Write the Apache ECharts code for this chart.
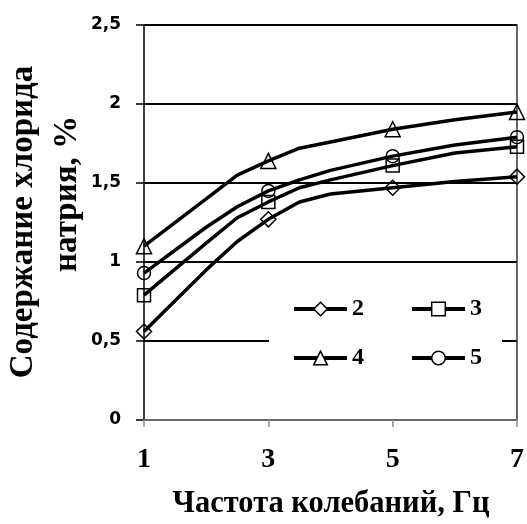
<!DOCTYPE html>
<html><head><meta charset="utf-8">
<script src="https://cdn.jsdelivr.net/npm/echarts@6/dist/echarts.min.js"></script>
<style>html,body{margin:0;padding:0;background:#fff}#c{width:527px;height:524px}</style>
</head><body><div id="c"></div>
<script>
const xLine = [1, 2, 2.5, 3, 3.5, 4, 5, 6, 7];
const markerX = [1, 3, 5, 7];
const s2 = [0.56, 0.95, 1.13, 1.27, 1.38, 1.43, 1.47, 1.51, 1.54];
const s3 = [0.79, 1.12, 1.28, 1.38, 1.47, 1.52, 1.61, 1.69, 1.73];
const s4 = [1.10, 1.40, 1.55, 1.64, 1.72, 1.76, 1.84, 1.90, 1.95];
const s5 = [0.93, 1.22, 1.35, 1.45, 1.52, 1.58, 1.67, 1.74, 1.79];
const names = ['2', '3', '4', '5'];
const symbols = ['diamond', 'rect', 'triangle', 'circle'];
const sizes = [15, 13, 15, 13];
const xTicks = [1, 3, 5, 7];
const yTitle1 = 'Содержание хлорида';
const yTitle2 = 'натрия, %';
const xTitle = 'Частота колебаний, Гц';

const serif = '"Liberation Serif", "Times New Roman", serif';
const sans = '"DejaVu Sans", Arial, sans-serif';

function mk(vals, i) {
  return {
    name: names[i], type: 'line', symbol: symbols[i], symbolSize: sizes[i],
    showAllSymbol: true,
    data: xLine.map((x, k) => markerX.includes(x) ? [x, vals[k]] : {value: [x, vals[k]], symbol: 'none'}),
    lineStyle: {color: '#000', width: 3.5},
    itemStyle: {color: 'rgba(255,255,255,0)', borderColor: '#000', borderWidth: 1.5},
    emphasis: {disabled: true}, animation: false, z: 3
  };
}
const legendCommon = {
  orient: 'horizontal', itemWidth: 53, itemHeight: 17, itemGap: 46,
  backgroundColor: '#fff',
  textStyle: {fontFamily: serif, fontWeight: 'bold', fontSize: 24, color: '#000'},
  itemStyle: {color: '#fff', borderColor: '#000', borderWidth: 1.5},
  lineStyle: {color: '#000', width: 4},
  selectedMode: false
};
const chart = echarts.init(document.getElementById('c'));
chart.setOption({
  animation: false,
  grid: {left: 144, right: 6, top: 25, bottom: 104, containLabel: false},
  legend: [
    Object.assign({}, legendCommon, {data: ['2', '3'], left: 269, top: 280, padding: [17, 20, 16, 23]}),
    Object.assign({}, legendCommon, {data: ['4', '5'], left: 269, top: 335, padding: [11, 20, 17, 23]})
  ],
  xAxis: {
    type: 'value', min: 1, max: 7, interval: 1, z: 2,
    axisLine: {lineStyle: {color: '#8c8c8c', width: 1.5}},
    axisTick: {show: true, length: 7, lineStyle: {color: '#8c8c8c', width: 1.5}, customValues: xTicks},
    axisLabel: {customValues: xTicks, margin: 26, fontFamily: serif, fontWeight: 'bold', fontSize: 28, color: '#000'},
    splitLine: {show: false}
  },
  yAxis: [{
    type: 'value', min: 0, max: 2.5, interval: 0.5,
    axisLine: {show: true, lineStyle: {color: '#000', width: 1.5}},
    axisTick: {show: true, length: 8, lineStyle: {color: '#000', width: 1.5}},
    axisLabel: {margin: 23, fontFamily: sans, fontWeight: 'bold', fontSize: 17, color: '#000',
      formatter: v => String(v).replace('.', ',')},
    splitLine: {show: true, lineStyle: {color: '#000', width: 2}}
  }, {
    type: 'value', min: 0, max: 2.5, position: 'right',
    axisLine: {show: true, lineStyle: {color: '#333', width: 1.5}},
    axisTick: {show: false}, axisLabel: {show: false}, splitLine: {show: false}
  }],
  graphic: [
    {type: 'text', x: 23, y: 222, rotation: Math.PI / 2,
     style: {text: yTitle1, fontFamily: serif, fontWeight: 'bold', fontSize: 33, fill: '#000', align: 'center', verticalAlign: 'middle'}},
    {type: 'text', x: 67, y: 194, rotation: Math.PI / 2,
     style: {text: yTitle2, fontFamily: serif, fontWeight: 'bold', fontSize: 33, fill: '#000', align: 'center', verticalAlign: 'middle'}},
    {type: 'text', x: 331, y: 504,
     style: {text: xTitle, fontFamily: serif, fontWeight: 'bold', fontSize: 30.5, fill: '#000', align: 'center', verticalAlign: 'middle'}}
  ],
  series: [mk(s2, 0), mk(s3, 1), mk(s4, 2), mk(s5, 3)]
});
</script></body></html>
